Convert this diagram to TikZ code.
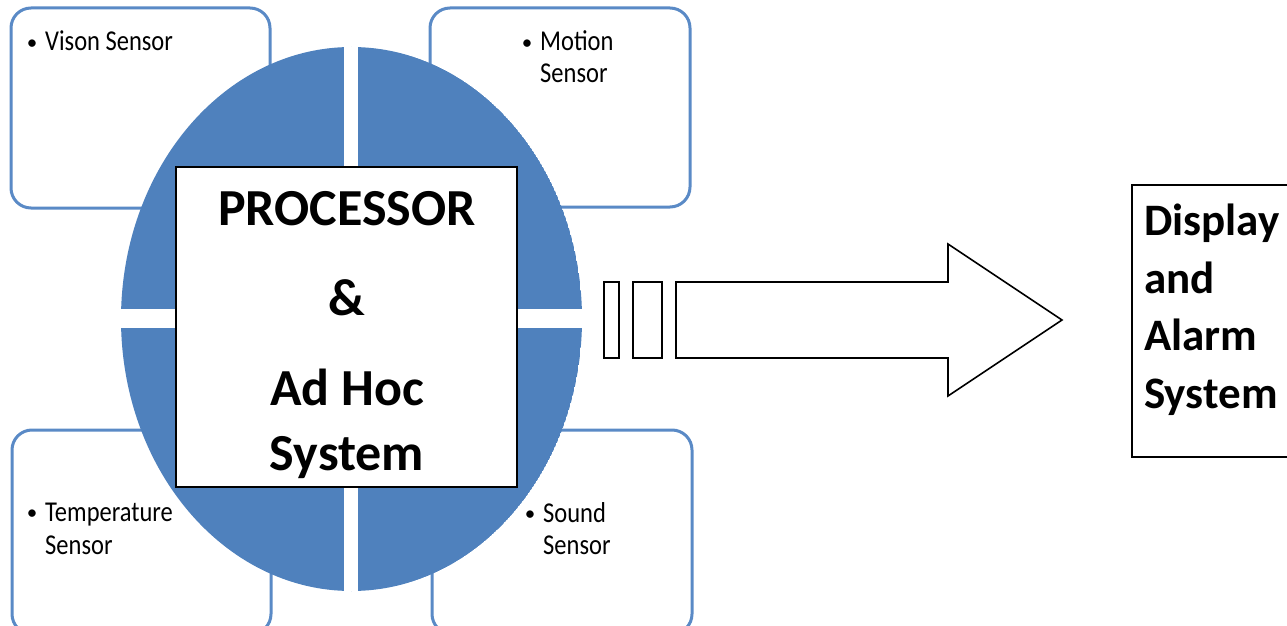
\documentclass[tikz,border=0pt]{standalone}
\usepackage{fontspec}
\setmainfont{Carlito}
\definecolor{quadblue}{HTML}{4F81BD}
\definecolor{boxblue}{HTML}{5A8AC6}
\newcommand{\tallsens}[1]{\scalebox{0.98}[1.15]{#1}}
\tikzset{
  sensorbox/.style={draw=boxblue, line width=3pt, rounded corners=20pt, fill=white},
  sensortext/.style={anchor=base west, inner sep=0pt, font=\fontsize{25}{32}\selectfont},
  bulletmark/.style={anchor=base, inner sep=0pt, font=\fontsize{21}{32}\selectfont},
  bigtext/.style={anchor=base, inner sep=0pt, font=\fontsize{52}{60}\selectfont\bfseries},
  disptext/.style={anchor=base west, inner sep=0pt, font=\fontsize{45}{57}\selectfont\bfseries},
  outline/.style={draw=black, line width=1.6pt, fill=white},
}
\begin{document}
\begin{tikzpicture}[x=1pt,y=-1pt]
\useasboundingbox (0,0) rectangle (1287,626);
\clip (0,0) rectangle (1287,626);
% sensor boxes
\draw[sensorbox] (11,8) rectangle (270,208);
\draw[sensorbox] (430,8) rectangle (690,207);
\draw[sensorbox] (12,430) rectangle (271,634);
\draw[sensorbox] (432,430) rectangle (692,634);
% quadrant ellipse
\begin{scope}
\clip (351.5,319) ellipse [x radius=230.5, y radius=272];
\fill[quadblue] (351.5,319) ellipse [x radius=230.5, y radius=272];
\fill[white] (344,0) rectangle (358,626);
\fill[white] (100,309) rectangle (600,328);
\end{scope}
% sensor texts
\node[bulletmark] (b1) at (32,49) {•};
\node[sensortext] (t1) at (45,51) {\tallsens{Vison Sensor}};
\node[bulletmark] (b2) at (527,49) {•};
\node[sensortext] (t2a) at (540,51) {\tallsens{Motion}};
\node[sensortext] (t2b) at (540,82) {\tallsens{Sensor}};
\node[bulletmark] (b3) at (32,519) {•};
\node[sensortext] (t3a) at (45,521) {\tallsens{Temperature}};
\node[sensortext] (t3b) at (45,554) {\tallsens{Sensor}};
\node[bulletmark] (b4) at (530,520) {•};
\node[sensortext] (t4a) at (543,522) {\tallsens{Sound}};
\node[sensortext] (t4b) at (543,554) {\tallsens{Sensor}};
% processor box
\draw[outline, line width=2pt] (176,167) rectangle (517,487);
\node[bigtext] (p1) at (347,225) {PROCESSOR};
\node[bigtext] (p2) at (347,315) {\&};
\node[bigtext] (p3) at (347,405) {Ad Hoc};
\node[bigtext] (p4) at (347,470) {System};
% arrow
\draw[outline] (604,282) rectangle (619,358);
\draw[outline] (633,282) rectangle (662,358);
\draw[outline, line join=miter] (676,282) -- (948,282) -- (948,244) -- (1062,320) -- (948,396) -- (948,358) -- (676,358) -- cycle;
% display box
\draw[outline] (1132,185) rectangle (1300,457);
\node[disptext] (d1) at (1144,235) {Display};
\node[disptext] (d2) at (1144,293) {and};
\node[disptext] (d3) at (1144,350) {Alarm};
\node[disptext] (d4) at (1144,408) {System};
\end{tikzpicture}
\end{document}
